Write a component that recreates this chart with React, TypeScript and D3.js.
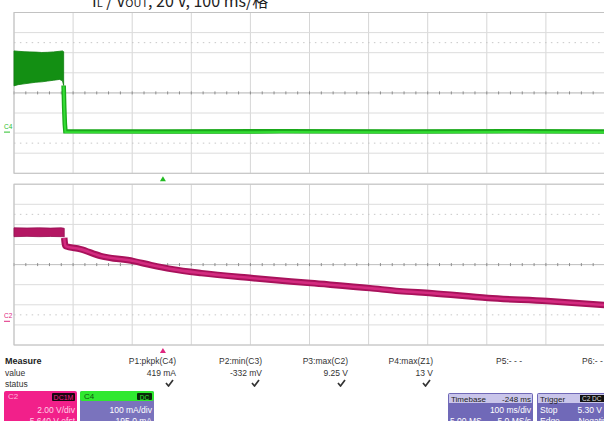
import React from "react";
import * as d3 from "d3";

// Acquisition settings
const msPerDiv = 100;
const timebaseDelayMs = -248;
const c4mAPerDiv = 100;
const c4OffsetmA = -195.0;
const c2VPerDiv = 2.0;
const c2OffsetV = -5.64;

// C4 (current): burst envelope before switch-off
const c4BurstT = [-252, -245, -235, -225, -215, -205, -195, -185, -175, -170, -168];
const c4BurstHi = [404, 402, 400, 399, 398, 396, 397, 399, 402, 404, 400];
const c4BurstLo = [230, 236, 240, 244, 248, 250, 254, 258, 262, 255, 232];

// C4 after switch-off
const c4IdleT = [-168, -167, -166, -165, 0, 200, 400, 600, 748];
const c4IdleV = [232, 120, 40, 4, 3, 4, 3, 4, 3];

// C2 (voltage): plateau envelope and decay
const c2PlateauT = [-252, -230, -210, -190, -172, -167];
const c2PlateauHi = [9.3, 9.28, 9.3, 9.27, 9.3, 9.25];
const c2PlateauLo = [8.42, 8.45, 8.42, 8.44, 8.42, 8.4];
const c2DecayT = [-167, -165, -140, -105, -50, -20, 15, 65, 150, 250, 350, 400, 455, 550, 650, 748];
const c2DecayV = [8.3, 7.48, 7.18, 6.49, 5.99, 5.59, 5.19, 4.79, 4.3, 3.8, 3.3, 3.0, 2.8, 2.31, 2.01, 1.61];

// Measurement table
const measureLabels = ["P1:pkpk(C4)", "P2:min(C3)", "P3:max(C2)", "P4:max(Z1)", "P5:- - -", "P6:- - -"];
const measureValues = ["419 mA", "-332 mV", "9.25 V", "13 V", "", ""];
const measureStatus = [true, true, true, true, false, false];

const FONT = "'Liberation Sans', Arial, sans-serif";
const W = 604;
const H = 421;

const X0 = 14;
const X1 = 605;
const DIV_H = 20.1;
const upperTop = 12.5;
const lowerTop = 184.2;

const tCenter = -timebaseDelayMs;
const xScale = d3.scaleLinear().domain([tCenter - 5 * msPerDiv, tCenter + 5 * msPerDiv]).range([X0, X1]);

const c4Center = -c4OffsetmA;
const yC4 = d3
  .scaleLinear()
  .domain([c4Center - 4 * c4mAPerDiv, c4Center + 4 * c4mAPerDiv])
  .range([upperTop + 8 * DIV_H, upperTop]);

const c2Center = -c2OffsetV;
const yC2 = d3
  .scaleLinear()
  .domain([c2Center - 4 * c2VPerDiv, c2Center + 4 * c2VPerDiv])
  .range([lowerTop + 8 * DIV_H, lowerTop]);

function Grid({ top }: { top: number }) {
  const bottom = top + 8 * DIV_H;
  const divW = (X1 - X0) / 10;
  const items: React.ReactNode[] = [];
  for (let i = 0; i <= 10; i++) {
    const x = X0 + i * divW;
    items.push(<line key={"v" + i} x1={x} x2={x} y1={top} y2={bottom} stroke="#d6d6d6" strokeWidth={1} />);
  }
  for (let j = 0; j <= 8; j++) {
    const y = top + j * DIV_H;
    items.push(<line key={"h" + j} x1={X0} x2={X1} y1={y} y2={y} stroke="#dcdcdc" strokeWidth={1} />);
  }
  // dotted guide rows
  [1.5, 6.5].forEach((d, k) => {
    const y = top + d * DIV_H;
    items.push(
      <line key={"d" + k} x1={X0} x2={X1} y1={y} y2={y} stroke="#c8c8c8" strokeWidth={1} strokeDasharray="1.5 4.4" />
    );
  });
  // center line minor ticks
  const cy = top + 4 * DIV_H;
  items.push(<line key="c" x1={X0} x2={X1} y1={cy} y2={cy} stroke="#c4c4c4" strokeWidth={1} />);
  for (let i = 0; i <= 50; i++) {
    const x = X0 + (i * divW) / 5;
    items.push(<line key={"t" + i} x1={x} x2={x} y1={cy - 1.5} y2={cy + 1.5} stroke="#8c8c8c" strokeWidth={1} />);
  }
  items.push(
    <rect key="b" x={X0} y={top} width={X1 - X0} height={8 * DIV_H} fill="none" stroke="#c2c2c2" strokeWidth={1} />
  );
  return <g>{items}</g>;
}

function Check({ x, y }: { x: number; y: number }) {
  return (
    <path
      d={`M${x - 6},${y - 1} L${x - 3.5},${y + 2} L${x + 1},${y - 4}`}
      fill="none"
      stroke="#333"
      strokeWidth={1.7}
      strokeLinejoin="round"
    />
  );
}

export default function App() {
  const c4Area = d3
    .area<number>()
    .x((_, i) => xScale(c4BurstT[i]))
    .y0((_, i) => yC4(c4BurstLo[i]))
    .y1((_, i) => yC4(c4BurstHi[i]));
  const c4Line = d3
    .line<number>()
    .x((_, i) => xScale(c4IdleT[i]))
    .y((v) => yC4(v));
  const c2Area = d3
    .area<number>()
    .x((_, i) => xScale(c2PlateauT[i]))
    .y0((_, i) => yC2(c2PlateauLo[i]))
    .y1((_, i) => yC2(c2PlateauHi[i]));
  const c2Line = d3
    .line<number>()
    .x((_, i) => xScale(c2DecayT[i]))
    .y((v) => yC2(v))
    .curve(d3.curveMonotoneX);

  const trigX = xScale(0);
  const colRight = [176, 262, 348, 433, 522, 608];

  return (
    <svg
      width={W}
      height={H}
      style={{ position: "absolute", left: 0, top: 0, background: "#fff" }}
      fontFamily={FONT}
    >
      <rect x={0} y={0} width={W} height={H} fill="#fff" />
      {/* title, clipped by the top edge */}
      <text x={92} y={7} fontSize={16} fill="#222" fontFamily="'Noto Sans CJK SC', sans-serif">
        I<tspan fontSize={11}>L</tspan> / V<tspan fontSize={11}>OUT</tspan>, 20 V, 100 ms/格
      </text>

      <Grid top={upperTop} />
      <Grid top={lowerTop} />

      {/* C4 trace */}
      <path d={c4Area(c4BurstT) || ""} fill="#138f13" stroke="#0e800e" strokeWidth={0.8} />
      <path d={c4Line(c4IdleV) || ""} fill="none" stroke="#1aa81a" strokeWidth={4.6} />
      <path d={c4Line(c4IdleV) || ""} fill="none" stroke="#33dd33" strokeWidth={2} transform="translate(0,0.8)" />

      {/* C2 trace */}
      <path d={c2Area(c2PlateauT) || ""} fill="#b41763" stroke="#960f52" strokeWidth={0.8} />
      <path d={c2Line(c2DecayV) || ""} fill="none" stroke="#a8125b" strokeWidth={6.5} />
      <path d={c2Line(c2DecayV) || ""} fill="none" stroke="#d42b80" strokeWidth={2.6} />

      {/* ground markers */}
      <text x={4} y={yC4(0) - 3} fontSize={6.5} fill="#2bc02b">C4</text>
      <line x1={4} x2={10} y1={yC4(0)} y2={yC4(0)} stroke="#2bc02b" strokeWidth={1} />
      <text x={4} y={yC2(0) - 3} fontSize={6.5} fill="#e0287f">C2</text>
      <line x1={4} x2={10} y1={yC2(0)} y2={yC2(0)} stroke="#e0287f" strokeWidth={1} />

      {/* trigger position markers */}
      <path d={`M${trigX - 3},${lowerTop - 3} L${trigX + 3},${lowerTop - 3} L${trigX},${lowerTop - 8} Z`} fill="#22bb22" />
      <path
        d={`M${trigX - 3},${lowerTop + 8 * DIV_H + 8} L${trigX + 3},${lowerTop + 8 * DIV_H + 8} L${trigX},${lowerTop + 8 * DIV_H + 3} Z`}
        fill="#e0287f"
      />

      {/* measurement table */}
      <text x={5} y={364} fontSize={9} fontWeight="bold" fill="#222">Measure</text>
      <text x={5} y={376} fontSize={8.5} fill="#333">value</text>
      <text x={5} y={387} fontSize={8.5} fill="#333">status</text>
      {measureLabels.map((lab, i) => (
        <g key={lab}>
          <text x={colRight[i]} y={364} fontSize={8.5} textAnchor="end" fill="#333">{lab}</text>
          {measureValues[i] && (
            <text x={colRight[i]} y={376} fontSize={8.5} textAnchor="end" fill="#333">{measureValues[i]}</text>
          )}
          {measureStatus[i] && <Check x={colRight[i] - 4} y={384} />}
        </g>
      ))}

      {/* C2 channel box */}
      <rect x={4} y={391} width={73} height={34} rx={2} fill="#f2208a" />
      <text x={8} y={399} fontSize={8} fill="#ffb8da">C2</text>
      <rect x={52} y={393} width={23} height={8} rx={1} fill="#1a0610" />
      <text x={63.5} y={400} fontSize={7} textAnchor="middle" fill="#f2208a">DC1M</text>
      <text x={75} y={413} fontSize={8.5} textAnchor="end" fill="#ffd0e6">2.00 V/div</text>
      <text x={75} y={424} fontSize={8.5} textAnchor="end" fill="#ffd0e6">5.640 V ofst</text>

      {/* C4 channel box */}
      <rect x={80} y={391} width={74} height={34} rx={2} fill="#7a73bd" />
      <rect x={80} y={391} width={74} height={10} rx={2} fill="#30e830" />
      <text x={84} y={399} fontSize={8} fill="#115511">C4</text>
      <rect x={137} y={393} width={15} height={7} rx={1} fill="#0a2a0a" />
      <text x={144.5} y={399.5} fontSize={6.5} textAnchor="middle" fill="#30e830">DC</text>
      <text x={152} y={413} fontSize={8.5} textAnchor="end" fill="#fff">100 mA/div</text>
      <text x={152} y={424} fontSize={8.5} textAnchor="end" fill="#fff">-195.0 mA</text>

      {/* Timebase box */}
      <rect x={448} y={393} width={85} height={32} rx={2} fill="#7069b8" />
      <rect x={449} y={394} width={83} height={9} fill="#c9c5ea" />
      <text x={451} y={401.5} fontSize={8} fill="#222">Timebase</text>
      <text x={531} y={401.5} fontSize={8} textAnchor="end" fill="#222">-248 ms</text>
      <text x={531} y={413} fontSize={8.5} textAnchor="end" fill="#fff">100 ms/div</text>
      <text x={450} y={424} fontSize={8.5} fill="#fff">5.00 MS</text>
      <text x={531} y={424} fontSize={8.5} textAnchor="end" fill="#fff">5.0 MS/s</text>

      {/* Trigger box */}
      <rect x={537} y={393} width={75} height={32} rx={2} fill="#7069b8" />
      <rect x={538} y={394} width={73} height={9} fill="#c9c5ea" />
      <text x={540} y={401.5} fontSize={8} fill="#222">Trigger</text>
      <rect x={580} y={395} width={30} height={7} fill="#111" />
      <text x={582} y={401} fontSize={6.5} fill="#ddd">C2 DC</text>
      <text x={540} y={413} fontSize={8.5} fill="#fff">Stop</text>
      <text x={602} y={413} fontSize={8.5} textAnchor="end" fill="#fff">5.30 V</text>
      <text x={540} y={424} fontSize={8.5} fill="#fff">Edge</text>
      <text x={612} y={424} fontSize={8.5} textAnchor="end" fill="#fff">Negative</text>
    </svg>
  );
}
